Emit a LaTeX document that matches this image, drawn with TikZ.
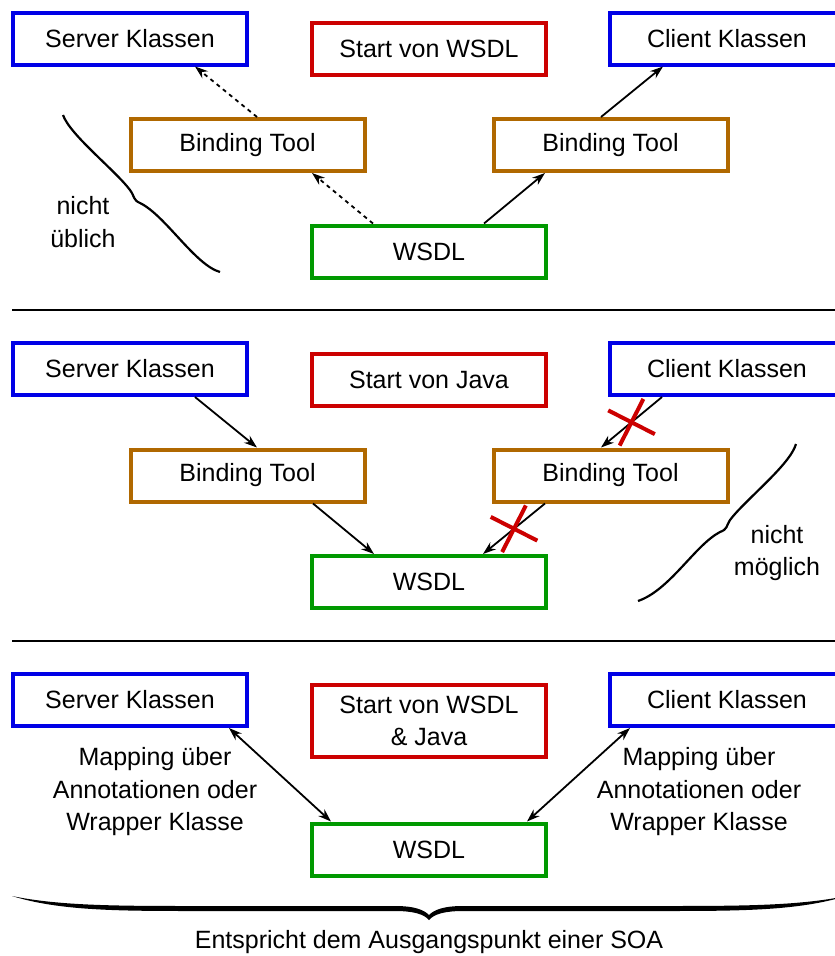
\documentclass[tikz,border=0pt]{standalone}
\usepackage{fontspec}
\setmainfont{Liberation Sans}
\usepackage{tikz}
\usetikzlibrary{arrows.meta, shapes.misc}
\definecolor{klasseblue}{RGB}{0,0,230}
\definecolor{startred}{RGB}{204,0,0}
\definecolor{toolbrown}{RGB}{176,104,0}
\definecolor{wsdlgreen}{RGB}{0,153,0}

\begin{document}
\begin{tikzpicture}[x=1pt, y=-1pt, font=\fontsize{25}{32.5}\selectfont,
  -{Stealth[length=13pt,width=9pt]}, line width=1.8pt]
  \tikzstyle{box}=[rectangle, line width=4pt, minimum width=234pt, minimum height=52pt, inner sep=2pt, align=center, fill=white]
  \tikzstyle{klasse}=[box, draw=klasseblue]
  \tikzstyle{start}=[box, draw=startred]
  \tikzstyle{tool}=[box, draw=toolbrown]
  \tikzstyle{wsdl}=[box, draw=wsdlgreen]
  \tikzstyle{nogo}=[cross out, draw=startred, line width=4pt, minimum size=33pt, inner sep=0pt, rotate=18, -]
  \tikzstyle{note}=[align=center]
  \useasboundingbox (0,0) rectangle (835,956);
  % von WSDL
  \node[klasse] (S_1) at (130,38.5)  {Server Klassen};
  \node[start]  (A_1) at (429,49)    {Start von WSDL};
  \node[klasse] (C_1) at (727,38.5)  {Client Klassen};
  \node[tool]   (L_1) at (247.5,145) {Binding Tool};
  \node[tool]   (R_1) at (610.5,145) {Binding Tool};
  \node[wsdl]   (W_1) at (429,251.5) {WSDL};
  \draw[dashed, dash pattern=on 4pt off 4pt] ([xshift=-56pt]W_1.north) -- ([xshift=64.5pt]L_1.south);
  \draw[dashed, dash pattern=on 4pt off 4pt] ([xshift=9.5pt]L_1.north) -- ([xshift=65pt]S_1.south);
  \draw ([xshift=55pt]W_1.north) -- ([xshift=-65.5pt]R_1.south);
  \draw ([xshift=-9.5pt]R_1.north) -- ([xshift=-64pt]C_1.south);
  \draw[-, line width=2.2pt] (63,115) .. controls (70,135) and (115,170) .. (130,190)
    .. controls (135,197) and (133,200) .. (140,203) .. controls (165,215) and (195,265) .. (220,272);
  \node[note] (N_1) at (83,222) {nicht\\üblich};
  \draw[-, line width=2.5pt] (12,310) -- (835,310);
  % von Java
  \node[klasse] (S_2) at (130,369)   {Server Klassen};
  \node[start]  (A_2) at (429,380)   {Start von Java};
  \node[klasse] (C_2) at (727,369)   {Client Klassen};
  \node[tool]   (L_2) at (247.5,475.5) {Binding Tool};
  \node[tool]   (R_2) at (610.5,475.5) {Binding Tool};
  \node[wsdl]   (W_2) at (429,582)   {WSDL};
  \draw ([xshift=65pt]S_2.south) -- ([xshift=9.5pt]L_2.north);
  \draw ([xshift=65.5pt]L_2.south) -- ([xshift=-55pt]W_2.north);
  \draw ([xshift=-65pt]C_2.south) -- node[nogo] {} ([xshift=-9.5pt]R_2.north);
  \draw ([xshift=-65.5pt]R_2.south) -- node[nogo] {} ([xshift=54pt]W_2.north);
  \draw[-, line width=2.2pt] (796,444) .. controls (790,465) and (745,500) .. (730,520)
    .. controls (726,526) and (728,529) .. (720,532) .. controls (695,545) and (670,590) .. (638,601);
  \node[note] (N_2) at (777,553) {nicht\\möglich};
  \draw[-, line width=2.5pt] (12,641) -- (835,641);
  % WSDL & Java
  \node[klasse] (S_3) at (130,700)   {Server Klassen};
  \node[start, minimum height=72pt] (A_3) at (429,721) {Start von WSDL\\\& Java};
  \node[klasse] (C_3) at (727,700)   {Client Klassen};
  \node[wsdl]   (W_3) at (429,849.5) {WSDL};
  \draw[{Stealth[length=13pt,width=9pt]}-{Stealth[length=13pt,width=9pt]}] ([xshift=99pt]S_3.south) -- ([xshift=-98pt]W_3.north);
  \draw[{Stealth[length=13pt,width=9pt]}-{Stealth[length=13pt,width=9pt]}] ([xshift=-97pt]C_3.south) -- ([xshift=98pt]W_3.north);
  \node[note] (M_1) at (155,792) {Mapping über\\Annotationen oder\\Wrapper Klasse};
  \node[note] (M_2) at (699,792) {Mapping über\\Annotationen oder\\Wrapper Klasse};
  % Klammer
  \fill (12,896) .. controls (60,906) and (120,906) .. (200,906) -- (395,906)
    .. controls (415,906) and (424,910) .. (429,915) .. controls (434,910) and (443,906) .. (463,906)
    -- (658,906) .. controls (738,906) and (798,906) .. (846,896)
    .. controls (798,911) and (738,911) .. (658,911) -- (463,911)
    .. controls (445,911) and (434,914) .. (429,920) .. controls (424,914) and (413,911) .. (395,911)
    -- (200,911) .. controls (120,911) and (60,911) .. (12,896) -- cycle;
  \node (SOA) at (429,942) {Entspricht dem Ausgangspunkt einer SOA};
\end{tikzpicture}
\end{document}
